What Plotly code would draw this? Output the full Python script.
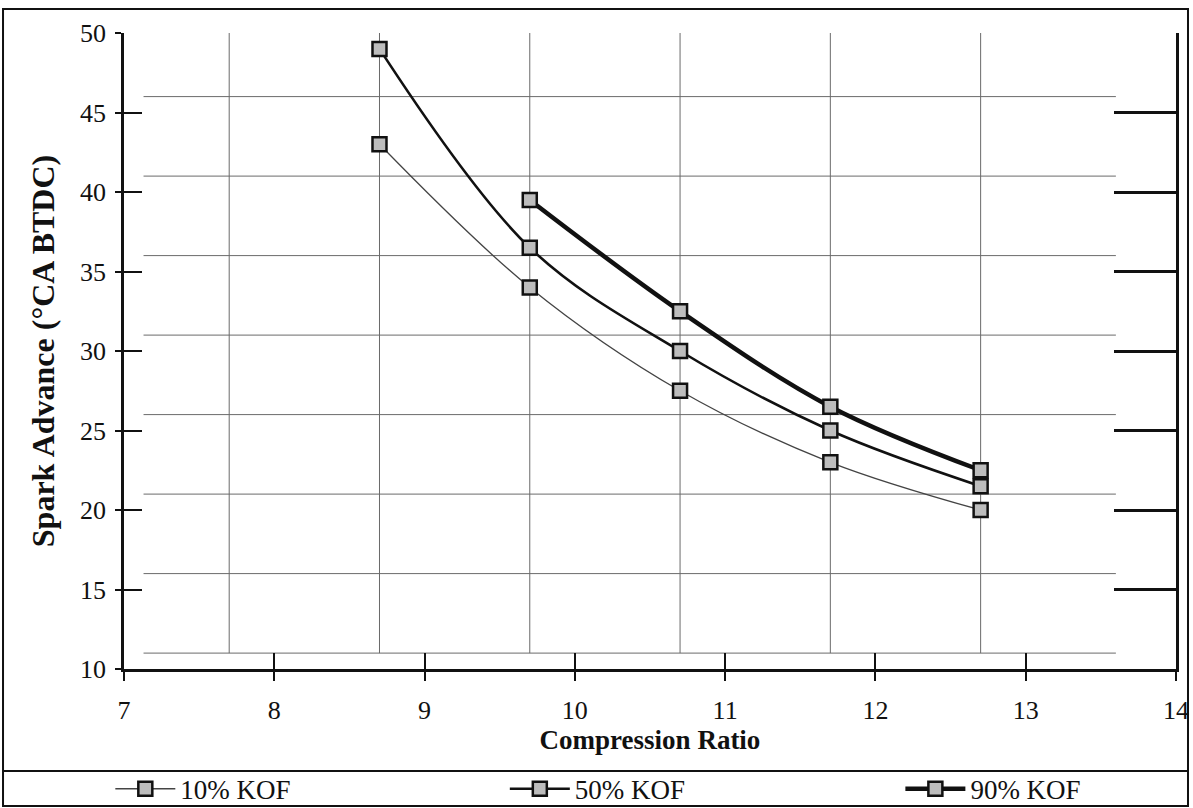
import plotly.graph_objects as go

# Compression ratio test points
cr = [8.7, 9.7, 10.7, 11.7, 12.7]
cr90 = [9.7, 10.7, 11.7, 12.7]

# Spark advance (°CA BTDC) for each knock-onset fraction
kof10 = [43, 34, 27.5, 23, 20]
kof50 = [49, 36.5, 30, 25, 21.5]
kof90 = [39.5, 32.5, 26.5, 22.5]

series_names = ["10% KOF", "50% KOF", "90% KOF"]

# Chart grid positions
grid_x = [7.7, 8.7, 9.7, 10.7, 11.7, 12.7]
grid_y = [11, 16, 21, 26, 31, 36, 41, 46]
grid_x_span = [7.13, 13.6]
grid_y_span = [11, 50]

x_ticks = [7, 8, 9, 10, 11, 12, 13, 14]
y_ticks = [10, 15, 20, 25, 30, 35, 40, 45, 50]

FONT = "Liberation Serif"
AXC = "#111111"

fig = go.Figure()

marker = dict(symbol="square", size=14, color="#bdbdbd",
              line=dict(color="#111111", width=2.5))

fig.add_trace(go.Scatter(x=cr, y=kof10, name=series_names[0], mode="lines+markers",
                         line=dict(color="#444444", width=1.3, shape="spline"),
                         marker=marker, legend="legend"))
fig.add_trace(go.Scatter(x=cr, y=kof50, name=series_names[1], mode="lines+markers",
                         line=dict(color="#111111", width=2.6, shape="spline"),
                         marker=marker, legend="legend2"))
fig.add_trace(go.Scatter(x=cr90, y=kof90, name=series_names[2], mode="lines+markers",
                         line=dict(color="#111111", width=4.5, shape="spline"),
                         marker=marker, legend="legend3"))

shapes = []
for gx in grid_x:
    shapes.append(dict(type="line", xref="x", yref="y", x0=gx, x1=gx,
                       y0=grid_y_span[0], y1=grid_y_span[1],
                       line=dict(color="#6a6a6a", width=1), layer="below"))
for gy in grid_y:
    shapes.append(dict(type="line", xref="x", yref="y", x0=grid_x_span[0], x1=grid_x_span[1],
                       y0=gy, y1=gy,
                       line=dict(color="#6a6a6a", width=1), layer="below"))

# Outer frame and legend separator
shapes.append(dict(type="rect", xref="paper", yref="paper",
                   x0=-0.1150, x1=1.0114, y0=-0.2154, y1=1.0377,
                   line=dict(color=AXC, width=2)))
shapes.append(dict(type="line", xref="paper", yref="paper",
                   x0=-0.1150, x1=1.0114, y0=-0.1604, y1=-0.1604,
                   line=dict(color=AXC, width=2)))

tickfont = dict(family=FONT, size=26, color="#111111")
xtitlefont = dict(family=FONT, size=27, color="#111111", weight="bold")
ytitlefont = dict(family=FONT, size=32, color="#111111", weight="bold")


def legend_box(xpos):
    return dict(orientation="h", x=xpos, xanchor="left", y=-0.189, yanchor="middle",
                itemwidth=60,
                font=dict(family=FONT, size=27, color="#111111"),
                bgcolor="rgba(0,0,0,0)")


fig.update_layout(
    width=1193, height=808,
    margin=dict(l=124, r=17, t=33, b=139, pad=0, autoexpand=False),
    paper_bgcolor="white", plot_bgcolor="white",
    showlegend=True,
    legend=legend_box(-0.013),
    legend2=legend_box(0.362),
    legend3=legend_box(0.738),
    shapes=shapes,
    xaxis=dict(range=[7, 14], tickvals=x_ticks, ticks="outside", ticklen=9,
               tickwidth=2, tickcolor=AXC, showline=True, linewidth=2.5, linecolor=AXC,
               showgrid=False, zeroline=False, tickfont=tickfont, ticklabelstandoff=7,
               title=dict(text="Compression Ratio", font=xtitlefont, standoff=4)),
    xaxis2=dict(range=[7, 14], tickvals=x_ticks, overlaying="x", anchor="y", side="bottom",
                ticks="inside", ticklen=16, tickwidth=2, tickcolor=AXC,
                showticklabels=False, showgrid=False, showline=False, zeroline=False),
    yaxis=dict(range=[10, 50], tickvals=y_ticks, ticks="outside", ticklen=6,
               tickwidth=2, tickcolor=AXC, showline=True, linewidth=2.5, linecolor=AXC,
               showgrid=False, zeroline=False, tickfont=tickfont, ticklabelstandoff=4,
               title=dict(text="Spark Advance (°CA BTDC)", font=ytitlefont, standoff=16)),
    yaxis2=dict(range=[10, 50], tickvals=y_ticks, overlaying="y", anchor="x", side="left",
                ticks="inside", ticklen=18, tickwidth=2, tickcolor=AXC,
                showticklabels=False, showgrid=False, showline=False, zeroline=False),
    yaxis3=dict(range=[10, 50], tickvals=y_ticks, overlaying="y", anchor="x", side="right",
                ticks="inside", ticklen=62, tickwidth=2.5, tickcolor=AXC,
                showticklabels=False, showgrid=False, showline=True, linewidth=2.5,
                linecolor=AXC, zeroline=False),
)

# Invisible traces to activate the overlay axes
fig.add_trace(go.Scatter(x=[7], y=[10], xaxis="x2", yaxis="y2", mode="markers",
                         marker=dict(opacity=0), showlegend=False, hoverinfo="skip"))
fig.add_trace(go.Scatter(x=[7], y=[10], xaxis="x", yaxis="y3", mode="markers",
                         marker=dict(opacity=0), showlegend=False, hoverinfo="skip"))

fig.write_html("out.html")
